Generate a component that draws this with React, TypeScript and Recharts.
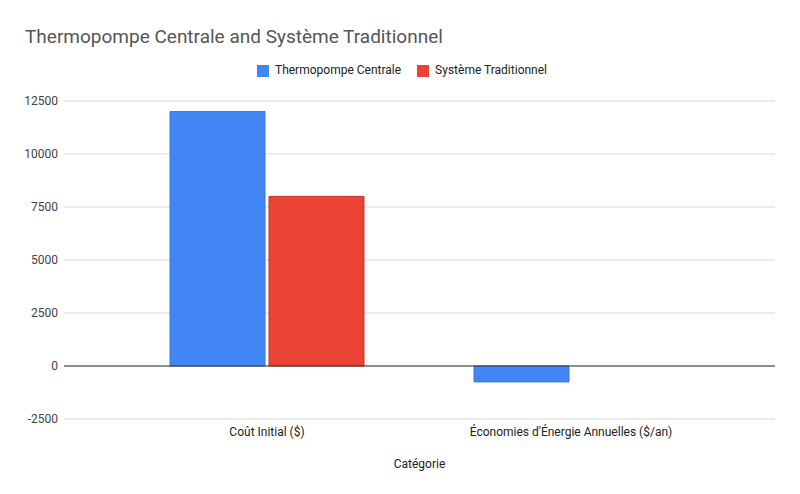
import {
  BarChart,
  Bar,
  XAxis,
  YAxis,
  CartesianGrid,
  Legend,
  ReferenceLine,
} from "recharts";

const categories = ["Coût Initial ($)", "Économies d'Énergie Annuelles ($/an)"];
const thermopompe = [12000, -750];
const traditionnel = [8000, 0];
const yTicks = [-2500, 0, 2500, 5000, 7500, 10000, 12500];

const data = categories.map((c, i) => ({
  categorie: c,
  thermo: thermopompe[i],
  trad: traditionnel[i],
}));

const font = "Roboto, Arial, sans-serif";

export default function App() {
  return (
    <div style={{ position: "absolute", left: 0, top: 0, width: 800, height: 494, background: "#fff", fontFamily: font }}>
      <div style={{ position: "absolute", left: 25, top: 25, fontSize: 19, color: "#555", whiteSpace: "nowrap" }}>
        Thermopompe Centrale and Système Traditionnel
      </div>
      <BarChart
        width={800}
        height={494}
        data={data}
        margin={{ top: 87, right: 25, left: 0, bottom: 15 }}
        barGap={4}
        barSize={95}
      >
        <CartesianGrid vertical={false} stroke="#d9d9d9" />
        <XAxis
          dataKey="categorie"
          axisLine={false}
          tickLine={false}
          tickSize={0}
          tickMargin={8}
          height={60}
          padding={{ left: 51, right: 52 }}
          tick={{ fill: "#222", fontSize: 12, fontFamily: font }}
          label={{ value: "Catégorie", position: "insideBottom", offset: 11, fill: "#222", fontSize: 12, fontFamily: font }}
        />
        <YAxis
          width={64}
          domain={[-2500, 12500]}
          ticks={yTicks}
          axisLine={false}
          tickLine={false}
          tickSize={0}
          tickMargin={6}
          tick={{ fill: "#444", fontSize: 12, fontFamily: font }}
        />
        <ReferenceLine y={0} stroke="#333" />
        <Legend
          verticalAlign="top"
          iconType="square"
          iconSize={12}
          itemSorter="dataKey"
          wrapperStyle={{ top: 63, left: 10, width: 800, fontSize: 12, fontFamily: font }}
          formatter={(v) => <span style={{ color: "#222", marginLeft: 2, marginRight: 6 }}>{v}</span>}
        />
        <Bar dataKey="thermo" name="Thermopompe Centrale" fill="#4285F4" stroke="#3a76d8" isAnimationActive={false} />
        <Bar dataKey="trad" name="Système Traditionnel" fill="#EA4335" stroke="#c9302c" isAnimationActive={false} />
      </BarChart>
    </div>
  );
}
